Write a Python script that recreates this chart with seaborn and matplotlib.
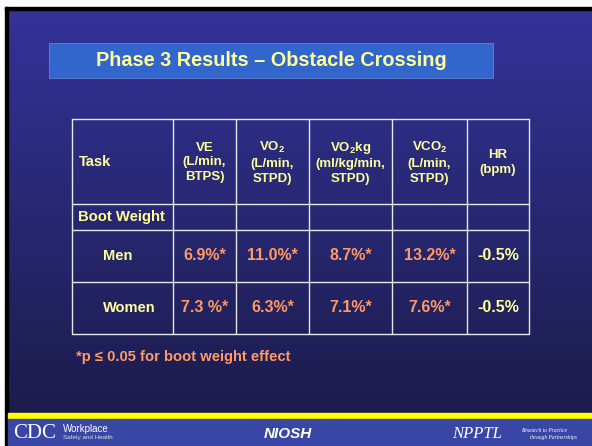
import numpy as np
import matplotlib.pyplot as plt
import seaborn as sns
from matplotlib.patches import Rectangle

sns.set_theme(style="white")
plt.rcParams['font.family'] = ['Liberation Sans', 'DejaVu Sans']
plt.rcParams['mathtext.default'] = 'regular'

# Table content
title = "Phase 3 Results \u2013 Obstacle Crossing"
row_header = "Task"
columns = ["VE\n(L/min,\nBTPS)", "VO$_2$\n(L/min,\nSTPD)", "VO$_2$kg\n(ml/kg/min,\nSTPD)",
           "VCO$_2$\n(L/min,\nSTPD)", "HR\n(bpm)"]
section = "Boot Weight"
groups = ["Men", "Women"]
men = ["6.9%*", "11.0%*", "8.7%*", "13.2%*", "-0.5%"]
women = ["7.3 %*", "6.3%*", "7.1%*", "7.6%*", "-0.5%"]
footnote = "*p \u2264 0.05 for boot weight effect"

# Layout (pixels)
col_edges = [72, 173, 236, 309, 392, 467, 529]
row_edges = [119, 204, 230, 282, 334]

yellow = "#ffff99"
orange = "#ff9966"

fig = plt.figure(figsize=(5.92, 4.46), dpi=100)
ax = fig.add_axes([0, 0, 1, 1])
ax.set_xlim(0, 592)
ax.set_ylim(446, 0)
ax.axis('off')
fig.patch.set_facecolor('white')

# slide background gradient
grad = np.linspace(0, 1, 256).reshape(-1, 1)
cmap = sns.blend_palette(["#333399", "#1c1c4c"], as_cmap=True)
ax.imshow(grad, cmap=cmap, aspect='auto', extent=[8, 592, 413, 10], zorder=0)
ax.add_patch(Rectangle((5, 7), 587, 3, color='black', zorder=1))
ax.add_patch(Rectangle((5, 7), 3, 439, color='black', zorder=1))

# footer
ax.add_patch(Rectangle((8, 413), 584, 6, color='#ffff00', zorder=1))
ax.add_patch(Rectangle((8, 419), 584, 27, color='#3a46a6', zorder=1))
ax.text(13, 434, "CDC", color='white', fontsize=15, family='Liberation Serif',
        va='center', ha='left', zorder=2)
ax.text(63, 429, "Workplace", color='white', fontsize=7, va='center', zorder=2)
ax.text(63, 438, "Safety and Health", color='#dddddd', fontsize=4.5, va='center', zorder=2)
ax.text(288, 434, "NIOSH", color='white', fontsize=11, fontweight='bold', style='italic',
        va='center', ha='center', zorder=2)
ax.text(452, 434, "NPPTL", color='white', fontsize=12, family='Liberation Serif',
        style='italic', va='center', ha='left', zorder=2)
ax.text(521, 430, "Research to Practice", color='white', fontsize=4, style='italic',
        family='Liberation Serif', va='center', zorder=2)
ax.text(530, 438, "through Partnerships", color='white', fontsize=4, style='italic',
        family='Liberation Serif', va='center', zorder=2)

# title box
ax.add_patch(Rectangle((49, 43), 444, 35, facecolor='#3366cc', edgecolor='#5577cc',
                       lw=0.8, zorder=2))
ax.text(271, 61, title, color=yellow, fontsize=14.3, fontweight='bold',
        ha='center', va='center', zorder=3)

# table grid
for x in col_edges:
    ax.plot([x, x], [row_edges[0], row_edges[-1]], color='#e8e8e8', lw=1, zorder=3)
for y in row_edges:
    ax.plot([col_edges[0], col_edges[-1]], [y, y], color='#e8e8e8', lw=1, zorder=3)

centers_x = [(a + b) / 2 for a, b in zip(col_edges[1:-1], col_edges[2:])]
mid = lambda i: (row_edges[i] + row_edges[i + 1]) / 2

ax.text(79, mid(0), row_header, color=yellow, fontsize=10.5, fontweight='bold',
        ha='left', va='center', zorder=4)
for cx, label in zip(centers_x, columns):
    ax.text(cx, mid(0) + 1, label, color=yellow, fontsize=9.5, fontweight='bold',
            ha='center', va='center', linespacing=1.3, zorder=4)

ax.text(78, mid(1), section, color=yellow, fontsize=10.7, fontweight='bold',
        ha='left', va='center', zorder=4)

for r, (grp, vals) in enumerate(zip(groups, [men, women])):
    y = mid(2 + r)
    ax.text(103, y, grp, color=yellow, fontsize=10.5,
            fontweight='bold', ha='left', va='center', zorder=4)
    for cx, v in zip(centers_x, vals):
        c = orange if v.endswith('*') else yellow
        ax.text(cx, y, v, color=c, fontsize=11.5, fontweight='bold',
                ha='center', va='center', zorder=4)

ax.text(76, 357, footnote, color=orange, fontsize=10.6, fontweight='bold',
        ha='left', va='center', zorder=4)

fig.savefig('out.png', dpi=100)
